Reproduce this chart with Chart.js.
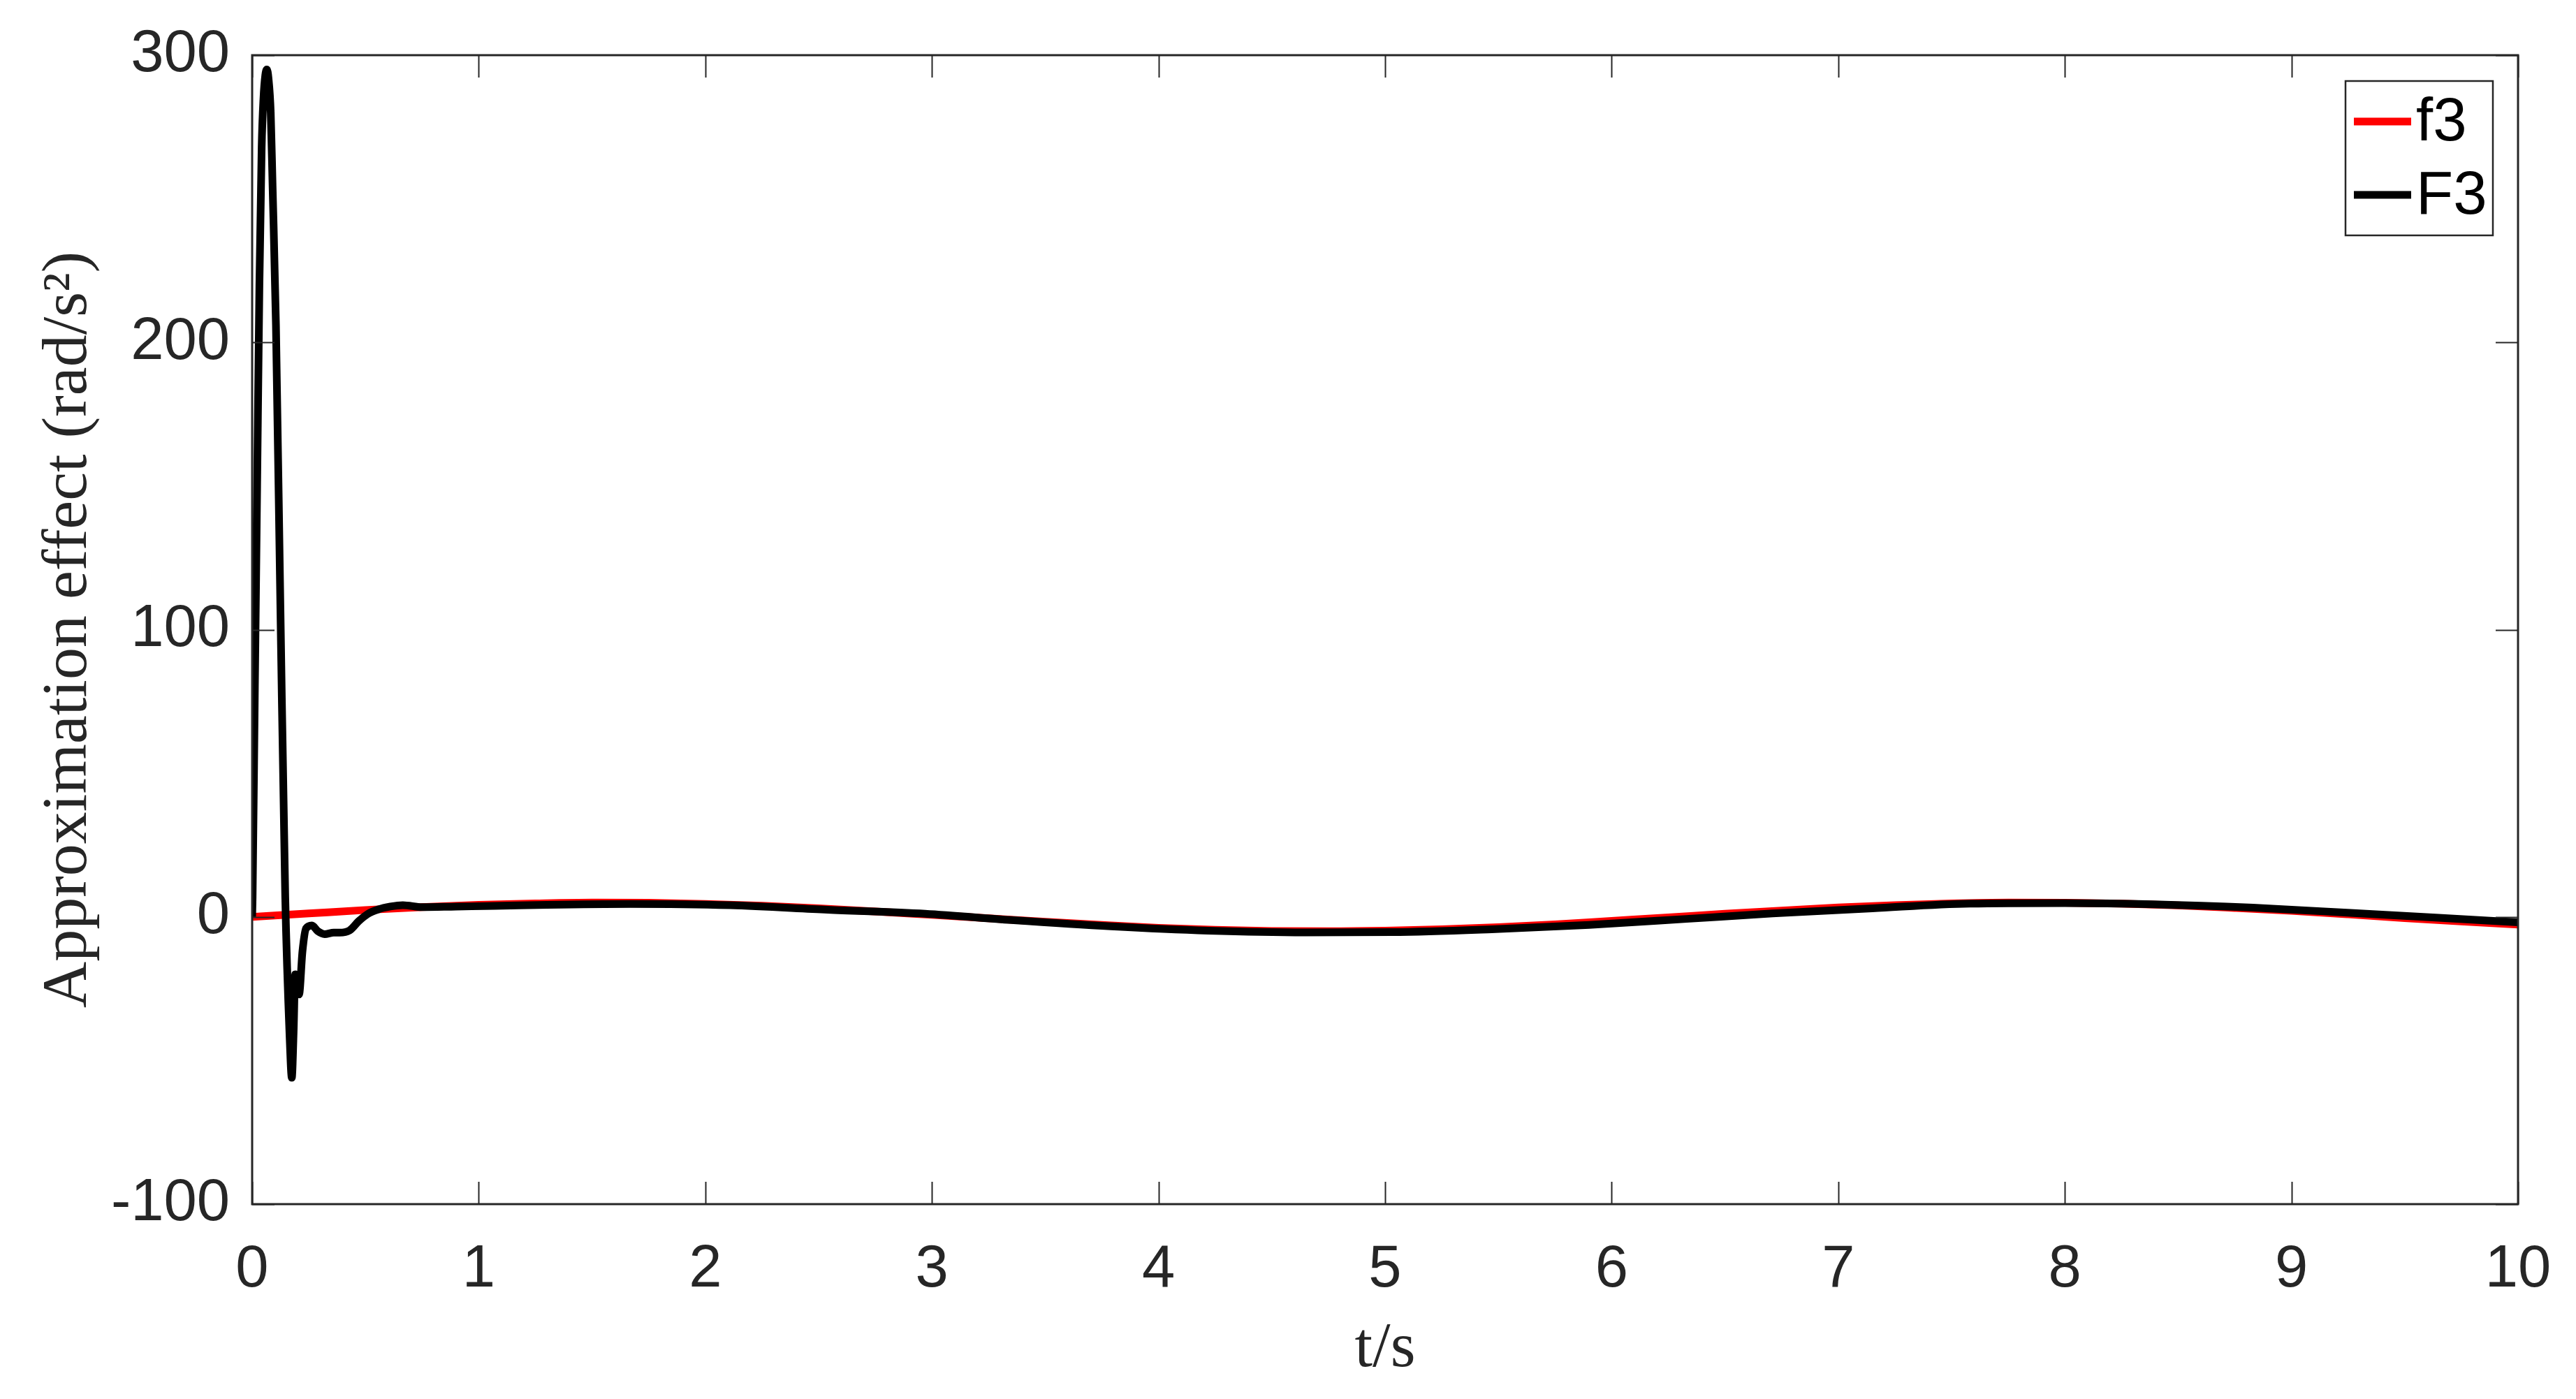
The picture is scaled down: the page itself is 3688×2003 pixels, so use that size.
<!DOCTYPE html>
<html>
<head>
<meta charset="utf-8">
<script src="https://cdn.jsdelivr.net/npm/chart.js@4.4.0/dist/chart.umd.min.js"></script>
<style>
  html, body { margin: 0; padding: 0; background: #ffffff; }
  #wrap { width: 3688px; height: 2003px; }
</style>
</head>
<body>
<div id="wrap"><canvas id="grafik" width="3688" height="2003"></canvas></div>
<script>
// f3 (red)
const tf3 = [0, 0.25, 0.5, 0.75, 1, 1.25, 1.5, 1.75, 2, 2.25, 2.5, 2.75, 3, 3.25, 3.5, 3.75, 4, 4.25, 4.5, 4.75,
             5, 5.25, 5.5, 5.75, 6, 6.25, 6.5, 6.75, 7, 7.25, 7.5, 7.75, 8, 8.25, 8.5, 8.75, 9, 9.25, 9.5, 9.75, 10];
const valf3 = [0, 1.2, 2.4, 3.4, 4.2, 4.7, 5.0, 4.9, 4.5, 3.9, 3.0, 1.9, 0.7, -0.5, -1.7, -2.8, -3.8, -4.5, -4.9, -5.0,
               -4.8, -4.3, -3.6, -2.6, -1.4, -0.2, 1.1, 2.2, 3.3, 4.1, 4.7, 5.0, 4.9, 4.6, 4.0, 3.1, 2.1, 0.9, -0.4, -1.6, -2.7];

// F3 (black)
const tF3 = [0, 0.002, 0.012, 0.022, 0.032, 0.042, 0.05, 0.058, 0.065, 0.072, 0.082, 0.09, 0.105, 0.125, 0.146, 0.166, 0.175,
             0.183, 0.19, 0.2, 0.207, 0.222, 0.238, 0.264, 0.29, 0.32, 0.36, 0.386, 0.43, 0.47, 0.51, 0.557, 0.61, 0.665, 0.75,
             0.9, 1.07, 1.3, 1.67, 2.11, 2.54, 2.97, 3.35, 3.79, 4.22, 4.65, 5.03, 5.47, 5.9, 6.33, 6.71, 7.15, 7.58, 8.0, 8.39,
             8.83, 9.26, 9.69, 10.0];
const valF3 = [0, 7, 80, 150, 220, 268, 285, 293, 295, 292, 280, 255, 206, 106, 7, -43, -56,
               -40, -20, -22, -27, -12, -4, -3, -5, -6, -5.5, -5.5, -4.7, -1.5, 1, 2.6, 3.6, 4.1, 3.4,
               3.6, 3.8, 4.2, 4.5, 4.05, 2.5, 1.1, -1.1, -3.3, -4.8, -5.4, -5.3, -4.3, -2.8, -0.7, 1.2, 3.0, 4.6, 4.8, 4.4,
               3.2, 1.4, -0.5, -1.9];

const seriesLabels = ['f3', 'F3'];
const seriesColors = ['#ff0000', '#000000'];
const xTicks = [0, 1, 2, 3, 4, 5, 6, 7, 8, 9, 10];
const yTicks = [-100, 0, 100, 200, 300];

const axisColor = '#262626';
const tickFont = { family: 'Liberation Sans, Arial, sans-serif', size: 85 };
const titleFont = { family: 'Liberation Serif, Times New Roman, serif', size: 92 };

function noktalar(tDizi, vDizi) {
    return tDizi.map((t, i) => ({ x: t, y: vDizi[i] }));
}

// box + inward ticks like matlab
const eksenCizici = {
    id: 'eksenCizici',
    afterDatasetsDraw(chart) {
        const ctx = chart.ctx;
        const a = chart.chartArea;
        const xs = chart.scales.x, ys = chart.scales.y;
        const tl = 32;
        ctx.save();
        ctx.strokeStyle = axisColor;
        ctx.lineWidth = 2;
        ctx.beginPath();
        xTicks.forEach(v => {
            const px = Math.round(xs.getPixelForValue(v)) + 0.5;
            ctx.moveTo(px, a.bottom); ctx.lineTo(px, a.bottom - tl);
            ctx.moveTo(px, a.top); ctx.lineTo(px, a.top + tl);
        });
        yTicks.forEach(v => {
            const py = Math.round(ys.getPixelForValue(v)) + 0.5;
            ctx.moveTo(a.left, py); ctx.lineTo(a.left + tl, py);
            ctx.moveTo(a.right, py); ctx.lineTo(a.right - tl, py);
        });
        ctx.stroke();
        ctx.lineWidth = 3;
        ctx.strokeRect(a.left, a.top, a.right - a.left, a.bottom - a.top);
        ctx.restore();
    }
};

const lejantCizici = {
    id: 'lejantCizici',
    afterDraw(chart) {
        const ctx = chart.ctx;
        const a = chart.chartArea;
        const w = 211, h = 221;
        const x0 = a.right - 36 - w, y0 = a.top + 37;
        ctx.save();
        ctx.fillStyle = '#ffffff';
        ctx.fillRect(x0, y0, w, h);
        ctx.strokeStyle = axisColor;
        ctx.lineWidth = 2.5;
        ctx.strokeRect(x0, y0, w, h);
        ctx.font = '87px ' + tickFont.family;
        ctx.textBaseline = 'middle';
        ctx.textAlign = 'left';
        chart.data.datasets.forEach((ds, i) => {
            const ly = y0 + 58 + i * 105;
            ctx.strokeStyle = ds.borderColor;
            ctx.lineWidth = 11;
            ctx.beginPath();
            ctx.moveTo(x0 + 12, ly);
            ctx.lineTo(x0 + 94, ly);
            ctx.stroke();
            ctx.fillStyle = '#000000';
            ctx.fillText(ds.label, x0 + 101, ly + 3);
        });
        ctx.restore();
    }
};

const config = {
    type: 'line',
    data: {
        datasets: [
            {
                label: seriesLabels[0],
                data: noktalar(tf3, valf3),
                borderColor: seriesColors[0],
                borderWidth: 11,
                pointRadius: 0,
                cubicInterpolationMode: 'monotone',
                borderJoinStyle: 'round',
                order: 2
            },
            {
                label: seriesLabels[1],
                data: noktalar(tF3, valF3),
                borderColor: seriesColors[1],
                borderWidth: 11,
                pointRadius: 0,
                cubicInterpolationMode: 'monotone',
                borderJoinStyle: 'round',
                order: 1
            }
        ]
    },
    options: {
        responsive: false,
        animation: false,
        devicePixelRatio: 1,
        layout: { padding: { left: 0, top: 79, right: 83, bottom: 0 } },
        plugins: {
            legend: { display: false },
            tooltip: { enabled: false }
        },
        scales: {
            x: {
                type: 'linear',
                min: 0,
                max: 10,
                afterBuildTicks: s => { s.ticks = xTicks.map(v => ({ value: v })); },
                afterFit: s => { s.height = 279; s.paddingLeft = 0; s.paddingRight = 0; },
                grid: { display: false, drawTicks: false },
                border: { display: false },
                ticks: { color: axisColor, font: tickFont, padding: 44, maxRotation: 0 },
                title: { display: true, text: 't/s', color: axisColor, font: titleFont, padding: { top: 0, bottom: 16 } }
            },
            y: {
                type: 'linear',
                min: -100,
                max: 300,
                afterBuildTicks: s => { s.ticks = yTicks.map(v => ({ value: v })); },
                afterFit: s => { s.width = 361; s.paddingTop = 0; s.paddingBottom = 0; },
                grid: { display: false, drawTicks: false },
                border: { display: false },
                ticks: { color: axisColor, font: tickFont, padding: 32 },
                title: { display: true, text: 'Approximation effect (rad/s²)', color: axisColor, font: titleFont, padding: { top: 44, bottom: 0 } }
            }
        }
    },
    plugins: [eksenCizici, lejantCizici]
};

new Chart(document.getElementById('grafik'), config);
</script>
</body>
</html>
